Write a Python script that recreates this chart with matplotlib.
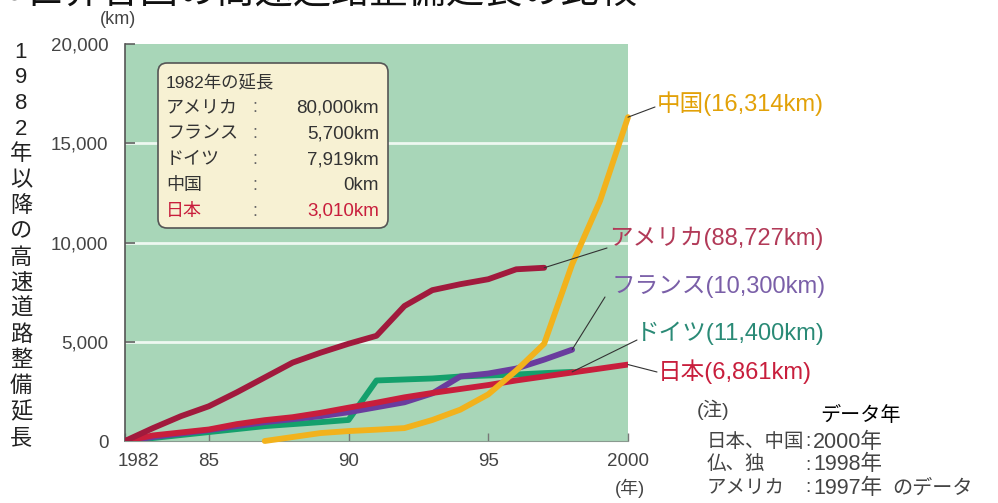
import matplotlib
matplotlib.use("Agg")
import matplotlib.pyplot as plt
import matplotlib.patches as mpatches
from matplotlib.transforms import IdentityTransform, ScaledTranslation

plt.rcParams['font.family'] = ['Liberation Sans', 'Noto Sans CJK JP', 'DejaVu Sans']

W, H = 998, 503

# growth of expressway length since 1982 (km)
years_us = list(range(1982, 1998))
usa = [0, 650, 1250, 1750, 2450, 3200, 3950, 4450, 4900, 5300, 6800, 7600, 7900, 8150, 8650, 8727]
years_eu = list(range(1982, 1999))
france = [0, 200, 380, 550, 750, 950, 1100, 1250, 1450, 1700, 1950, 2400, 3250, 3400, 3650, 4100, 4600]
germany = [0, 150, 300, 450, 600, 750, 850, 950, 1060, 3050, 3100, 3150, 3250, 3300, 3350, 3420, 3481]
years_jp = list(range(1982, 2001))
japan = [0, 280, 430, 580, 850, 1050, 1200, 1420, 1680, 1930, 2200, 2420, 2620, 2820, 3050, 3250, 3450, 3650, 3851]
years_cn = list(range(1987, 2001))
china = [0, 200, 400, 500, 570, 650, 1060, 1580, 2350, 3550, 4900, 8900, 12100, 16314]

# 1982 baseline table
base_names = ['アメリカ', 'フランス', 'ドイツ', '中国', '日本']
base_values = ['80,000km', '5,700km', '7,919km', '0km', '3,010km']

# data year notes
note_names = ['日本、中国', '仏、独', 'アメリカ']
note_years = ['2000年', '1998年', '1997年']

xticks = [1982, 1985, 1990, 1995, 2000]
xticklabels = ['1982', '85', '90', '95', '2000']
yticks = [0, 5000, 10000, 15000, 20000]

c_us = '#a11a3d'
c_jp = '#c81e3c'
c_de = '#14a06c'
c_fr = '#6a3c9e'
c_cn = '#f2b21c'

fig = plt.figure(figsize=(W / 100, H / 100), dpi=100)
fig.patch.set_facecolor('white')


def px(x, y):
    return x / W, 1 - y / H


ax = fig.add_axes([125 / W, 62 / H, 503 / W, 397 / H])
ax.set_facecolor('#a8d6b8')
ax.set_xlim(1982, 2000)
ax.set_ylim(0, 20000)

for v in yticks[1:-1]:
    ax.axhline(v, color='#eef8f1', lw=2, zorder=1)

lw = 4.2
style = dict(lw=lw, solid_joinstyle='round', solid_capstyle='round')
ax.plot(years_eu, germany, color=c_de, zorder=3, **style)
ax.plot(years_eu, france, color=c_fr, zorder=3, **style)
ax.plot(years_jp, japan, color=c_jp, zorder=4, **style)
ax.plot(years_cn, china, color=c_cn, zorder=5, clip_on=False, **style)
ax.plot(years_us, usa, color=c_us, zorder=6, **style)

ax.set_xticks(xticks)
ax.set_xticklabels(xticklabels)
ax.set_yticks(yticks)
ax.set_yticklabels(['{:,}'.format(v) for v in yticks])
ax.tick_params(axis='y', direction='in', length=7, width=1.1, color='#555555',
               pad=12, labelsize=13.5, labelcolor='#444444')
ax.tick_params(axis='x', direction='in', length=6, width=1, color='#777777',
               pad=9, labelsize=13.5, labelcolor='#444444')
for lab in ax.get_xticklabels():
    if lab.get_text() == '1982':
        lab.set_transform(lab.get_transform() + ScaledTranslation(10 / 72, 0, fig.dpi_scale_trans))
ax.spines['top'].set_visible(False)
ax.spines['right'].set_visible(False)
ax.spines['left'].set_color('#555555')
ax.spines['left'].set_linewidth(1.2)
ax.spines['bottom'].set_color('#8a9a90')
ax.spines['bottom'].set_linewidth(0.8)

# title (runs off the top edge)
fig.text(*px(3, -7), '●世界各国の高速道路整備延長の比較', fontsize=27.5, va='center', ha='left', color='#111111')
fig.text(*px(118, 20), '(km)', fontsize=13, va='center', ha='center', color='#444444')
fig.text(*px(630, 488), '(年)', fontsize=13, va='center', ha='center', color='#444444')

# vertical axis title, one character per row
ylabel = '1982年以降の高速道路整備延長'
for i, ch in enumerate(ylabel):
    fig.text(*px(21, 52 + i * 25.75), ch, fontsize=16, va='center', ha='center', color='#222222')

# 1982 baseline box
box = mpatches.FancyBboxPatch((158, H - 228), 230, 165, boxstyle='round,pad=0,rounding_size=9',
                              transform=IdentityTransform(), facecolor='#f7f1d3',
                              edgecolor='#555555', lw=1.2, zorder=5)
fig.add_artist(box)
fig.text(*px(166, 82), '1982年の延長', fontsize=12.5, va='center', ha='left', color='#333333', zorder=6)
for i, (name, val) in enumerate(zip(base_names, base_values)):
    yy = 108 + i * 25.8
    col = c_jp if name == '日本' else '#333333'
    fig.text(*px(166, yy), name, fontsize=13, va='center', ha='left', color=col, zorder=6)
    fig.text(*px(255, yy), ':', fontsize=13, va='center', ha='center', color='#666666', zorder=6)
    fig.text(*px(379, yy), val, fontsize=13.5, va='center', ha='right', color=col, zorder=6)

# callouts at the end of each series
callouts = [
    ('中国(16,314km)', '#e2a108', years_cn[-1], china[-1], (657, 104), (655, 107)),
    ('アメリカ(88,727km)', '#b23a58', years_us[-1], usa[-1], (609, 238), (607, 248)),
    ('フランス(10,300km)', '#7a5fa8', years_eu[-1], france[-1], (612, 287), (605, 297)),
    ('ドイツ(11,400km)', '#2a8a76', years_eu[-1], germany[-1], (636, 333), (637, 340)),
    ('日本(6,861km)', c_jp, years_jp[-1], japan[-1], (658, 372), (657, 372)),
]
for text, col, xe, ye, tpos, lpos in callouts:
    ax.annotate('', xy=(xe, ye), xycoords='data',
                xytext=(lpos[0], H - lpos[1]), textcoords='figure pixels',
                arrowprops=dict(arrowstyle='-', color='#333333', lw=0.8, shrinkA=0, shrinkB=0),
                annotation_clip=False, zorder=7)
    fig.text(*px(*tpos), text, fontsize=17, va='center', ha='left', color=col)

# notes
fig.text(*px(697, 410), '(注)', fontsize=14, va='center', ha='left', color='#444444')
fig.text(*px(820, 415), 'データ年', fontsize=14.5, va='center', ha='left', color='#000000')
for i, (name, yr) in enumerate(zip(note_names, note_years)):
    yy = 442 + i * 23
    fig.text(*px(707, yy), name, fontsize=14, va='center', ha='left', color='#444444')
    fig.text(*px(808, yy), ':', fontsize=14, va='center', ha='center', color='#444444')
    fig.text(*px(813, yy), yr, fontsize=15.5, va='center', ha='left', color='#444444')
fig.text(*px(892, 488), 'のデータ', fontsize=14.5, va='center', ha='left', color='#444444')

fig.savefig('out.png', dpi=100)
